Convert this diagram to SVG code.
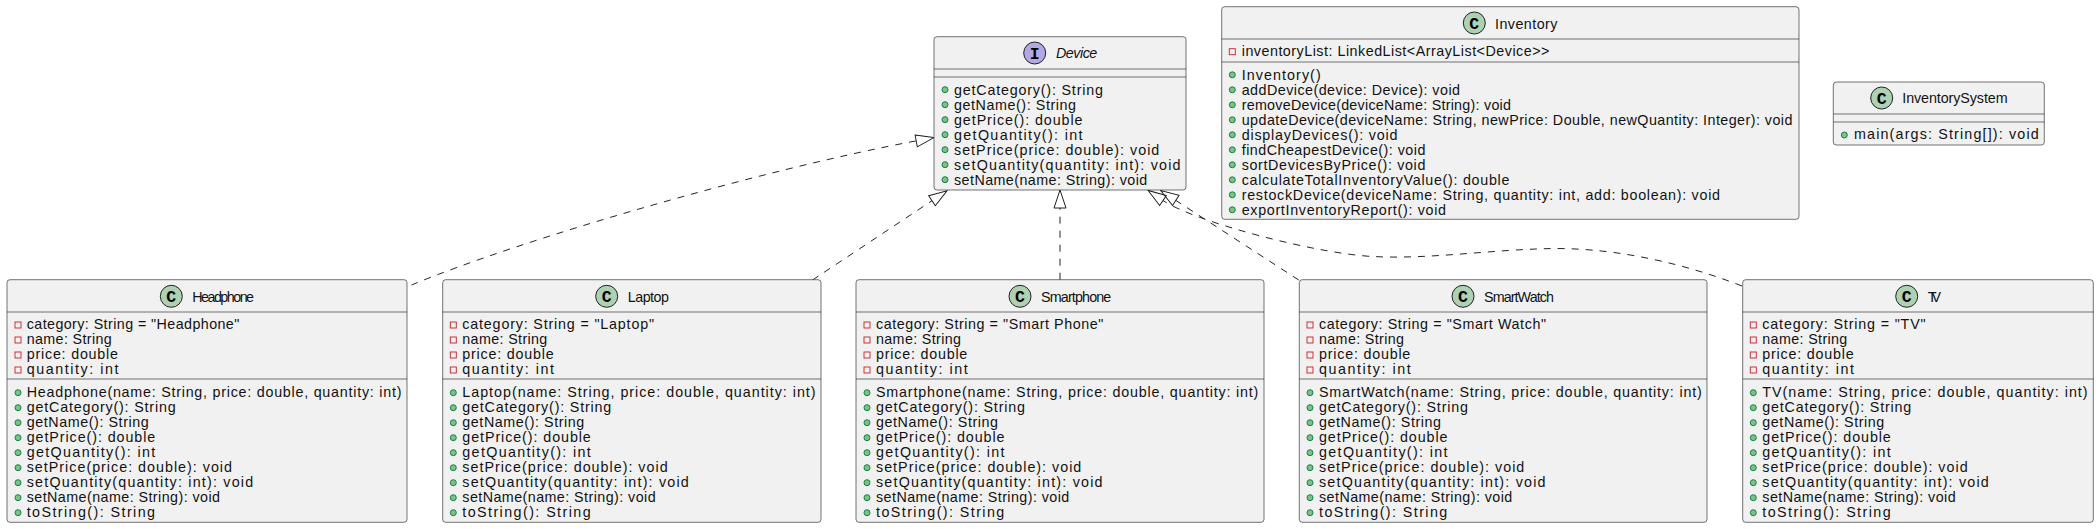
<svg xmlns="http://www.w3.org/2000/svg" width="2100" height="529" viewBox="0 0 2100 529">
<style>
text{font-family:"Liberation Sans",Arial,sans-serif;font-size:14.3px;fill:#111}
.i{font-style:italic}
.l{font-family:"Liberation Mono",monospace;font-size:16.5px;font-weight:700;text-anchor:middle;fill:#000}
.b{fill:#F1F1F1;stroke:#181818;stroke-width:.6}
.s{stroke:#181818;stroke-width:.6;fill:none}
.c{fill:#ADD1B2;stroke:#181818;stroke-width:.95}
.n{fill:#B4A7E5;stroke:#181818;stroke-width:.95}
.f{fill:none;stroke:#C82930;stroke-width:.95}
.m{fill:#84BE84;stroke:#038048;stroke-width:.95}
.e{fill:none;stroke:#181818;stroke-width:.95;stroke-dasharray:7 7}
.a{fill:none;stroke:#181818;stroke-width:.95;stroke-dasharray:none}
</style>
<defs>
<marker id="tri" markerUnits="userSpaceOnUse" viewBox="-1 -7 20 14" markerWidth="20" markerHeight="14" refX="0" refY="0" orient="auto">
<path class="a" d="M0,-6L18,0L0,6Z"/>
</marker>
</defs>
<g id="connectors">
<path class="e" marker-end="url(#tri)" d="M411.5,285C520,240 760,170 916.2,140.9"/>
<path class="e" marker-end="url(#tri)" d="M812.5,280L932,200.7"/>
<path class="e" marker-end="url(#tri)" d="M1060,279.7L1060,208"/>
<path class="e" marker-end="url(#tri)" d="M1298.7,280L1175.8,200.4"/>
<path class="e" marker-end="url(#tri)" d="M1742,286C1670,258 1600,247 1546,248.7C1490,250 1430,259 1377,256.7C1320,255 1195,222 1163,200.5"/>
</g>
<g id="Device">
<rect class="b" x="934" y="36.7" width="252" height="153.3" rx="3"/>
<path class="s" d="M934,69H1186M934,77H1186"/>
<circle class="n" cx="1034.7" cy="53" r="11"/><text class="l" x="1034.7" y="58.6">I</text>
<text class="i" x="1056" y="58" textLength="41.3">Device</text>
<circle class="m" cx="945" cy="89.7" r="3"/><text x="954" y="94.6" textLength="148.9">getCategory(): String</text>
<circle class="m" cx="945" cy="104.7" r="3"/><text x="954" y="109.6" textLength="122">getName(): String</text>
<circle class="m" cx="945" cy="119.7" r="3"/><text x="954" y="124.6" textLength="128.5">getPrice(): double</text>
<circle class="m" cx="945" cy="134.7" r="3"/><text x="954" y="139.6" textLength="128.5">getQuantity(): int</text>
<circle class="m" cx="945" cy="149.7" r="3"/><text x="954" y="154.6" textLength="205.3">setPrice(price: double): void</text>
<circle class="m" cx="945" cy="164.7" r="3"/><text x="954" y="169.6" textLength="226.5">setQuantity(quantity: int): void</text>
<circle class="m" cx="945" cy="179.7" r="3"/><text x="954" y="184.6" textLength="193.3">setName(name: String): void</text>
</g>
<g id="Inventory">
<rect class="b" x="1221.7" y="6.7" width="577.3" height="212.6" rx="3"/>
<path class="s" d="M1221.7,39H1799M1221.7,62H1799"/>
<circle class="c" cx="1474.3" cy="23" r="11"/><text class="l" x="1474.3" y="28.8">C</text>
<text x="1495" y="29" textLength="62.5">Inventory</text>
<rect class="f" x="1229.3" y="48.7" width="6" height="6"/><text x="1241.7" y="56.3" textLength="307.7">inventoryList: LinkedList&lt;ArrayList&lt;Device&gt;&gt;</text>
<circle class="m" cx="1232.3" cy="74.8" r="3"/><text x="1241.7" y="79.6" textLength="79">Inventory()</text>
<circle class="m" cx="1232.3" cy="89.8" r="3"/><text x="1241.7" y="94.6" textLength="218.3">addDevice(device: Device): void</text>
<circle class="m" cx="1232.3" cy="104.8" r="3"/><text x="1241.7" y="109.6" textLength="269.3">removeDevice(deviceName: String): void</text>
<circle class="m" cx="1232.3" cy="119.8" r="3"/><text x="1241.7" y="124.6" textLength="550.7">updateDevice(deviceName: String, newPrice: Double, newQuantity: Integer): void</text>
<circle class="m" cx="1232.3" cy="134.8" r="3"/><text x="1241.7" y="139.6" textLength="155.7">displayDevices(): void</text>
<circle class="m" cx="1232.3" cy="149.8" r="3"/><text x="1241.7" y="154.6" textLength="183.7">findCheapestDevice(): void</text>
<circle class="m" cx="1232.3" cy="164.8" r="3"/><text x="1241.7" y="169.6" textLength="183.7">sortDevicesByPrice(): void</text>
<circle class="m" cx="1232.3" cy="179.8" r="3"/><text x="1241.7" y="184.6" textLength="267.7">calculateTotalInventoryValue(): double</text>
<circle class="m" cx="1232.3" cy="194.8" r="3"/><text x="1241.7" y="199.6" textLength="478.3">restockDevice(deviceName: String, quantity: int, add: boolean): void</text>
<circle class="m" cx="1232.3" cy="209.8" r="3"/><text x="1241.7" y="214.6" textLength="204.3">exportInventoryReport(): void</text>
</g>
<g id="InventorySystem">
<rect class="b" x="1833.3" y="82" width="211" height="63" rx="3"/>
<path class="s" d="M1833.3,114H2044.3M1833.3,122H2044.3"/>
<circle class="c" cx="1881.7" cy="98" r="11"/><text class="l" x="1881.7" y="103.8">C</text>
<text x="1902.3" y="103" textLength="105.3">InventorySystem</text>
<circle class="m" cx="1844.3" cy="135" r="3"/><text x="1854" y="139.3" textLength="184.7">main(args: String[]): void</text>
</g>
<g id="Headphone">
<rect class="b" x="7" y="279.7" width="400" height="242.6" rx="3"/>
<path class="s" d="M7,312H407M7,379H407"/>
<circle class="c" cx="171.3" cy="296.3" r="11"/><text class="l" x="171.3" y="302.1">C</text>
<text x="192.3" y="301.7" textLength="61.7">Headphone</text>
<rect class="f" x="15" y="322" width="6" height="6"/><text x="26.7" y="329.3" textLength="212.6">category: String = "Headphone"</text>
<rect class="f" x="15" y="337" width="6" height="6"/><text x="26.7" y="344.3" textLength="85">name: String</text>
<rect class="f" x="15" y="352" width="6" height="6"/><text x="26.7" y="359.3" textLength="91.3">price: double</text>
<rect class="f" x="15" y="367" width="6" height="6"/><text x="26.7" y="374.3" textLength="91.7">quantity: int</text>
<circle class="m" cx="18" cy="392.7" r="3"/><text x="26.7" y="397.3" textLength="374.7">Headphone(name: String, price: double, quantity: int)</text>
<circle class="m" cx="18" cy="407.7" r="3"/><text x="26.7" y="412.3" textLength="148.9">getCategory(): String</text>
<circle class="m" cx="18" cy="422.7" r="3"/><text x="26.7" y="427.3" textLength="122">getName(): String</text>
<circle class="m" cx="18" cy="437.7" r="3"/><text x="26.7" y="442.3" textLength="128.5">getPrice(): double</text>
<circle class="m" cx="18" cy="452.7" r="3"/><text x="26.7" y="457.3" textLength="128.5">getQuantity(): int</text>
<circle class="m" cx="18" cy="467.7" r="3"/><text x="26.7" y="472.3" textLength="205.3">setPrice(price: double): void</text>
<circle class="m" cx="18" cy="482.7" r="3"/><text x="26.7" y="487.3" textLength="226.5">setQuantity(quantity: int): void</text>
<circle class="m" cx="18" cy="497.7" r="3"/><text x="26.7" y="502.3" textLength="193.3">setName(name: String): void</text>
<circle class="m" cx="18" cy="512.7" r="3"/><text x="26.7" y="517.3" textLength="128.3">toString(): String</text>
</g>
<g id="Laptop">
<rect class="b" x="442.7" y="279.7" width="378.3" height="242.6" rx="3"/>
<path class="s" d="M442.7,312H821M442.7,379H821"/>
<circle class="c" cx="606.7" cy="296.3" r="11"/><text class="l" x="606.7" y="302.1">C</text>
<text x="627.7" y="301.7" textLength="41.3">Laptop</text>
<rect class="f" x="450.3" y="322" width="6" height="6"/><text x="462.3" y="329.3" textLength="191.7">category: String = "Laptop"</text>
<rect class="f" x="450.3" y="337" width="6" height="6"/><text x="462.3" y="344.3" textLength="85">name: String</text>
<rect class="f" x="450.3" y="352" width="6" height="6"/><text x="462.3" y="359.3" textLength="91.3">price: double</text>
<rect class="f" x="450.3" y="367" width="6" height="6"/><text x="462.3" y="374.3" textLength="91.7">quantity: int</text>
<circle class="m" cx="453.3" cy="392.7" r="3"/><text x="462.3" y="397.3" textLength="353.3">Laptop(name: String, price: double, quantity: int)</text>
<circle class="m" cx="453.3" cy="407.7" r="3"/><text x="462.3" y="412.3" textLength="148.9">getCategory(): String</text>
<circle class="m" cx="453.3" cy="422.7" r="3"/><text x="462.3" y="427.3" textLength="122">getName(): String</text>
<circle class="m" cx="453.3" cy="437.7" r="3"/><text x="462.3" y="442.3" textLength="128.5">getPrice(): double</text>
<circle class="m" cx="453.3" cy="452.7" r="3"/><text x="462.3" y="457.3" textLength="128.5">getQuantity(): int</text>
<circle class="m" cx="453.3" cy="467.7" r="3"/><text x="462.3" y="472.3" textLength="205.3">setPrice(price: double): void</text>
<circle class="m" cx="453.3" cy="482.7" r="3"/><text x="462.3" y="487.3" textLength="226.5">setQuantity(quantity: int): void</text>
<circle class="m" cx="453.3" cy="497.7" r="3"/><text x="462.3" y="502.3" textLength="193.3">setName(name: String): void</text>
<circle class="m" cx="453.3" cy="512.7" r="3"/><text x="462.3" y="517.3" textLength="128.3">toString(): String</text>
</g>
<g id="Smartphone">
<rect class="b" x="856" y="279.7" width="408" height="242.6" rx="3"/>
<path class="s" d="M856,312H1264M856,379H1264"/>
<circle class="c" cx="1020" cy="296.3" r="11"/><text class="l" x="1020" y="302.1">C</text>
<text x="1041" y="301.7" textLength="70.3">Smartphone</text>
<rect class="f" x="864" y="322" width="6" height="6"/><text x="876" y="329.3" textLength="227.3">category: String = "Smart Phone"</text>
<rect class="f" x="864" y="337" width="6" height="6"/><text x="876" y="344.3" textLength="85">name: String</text>
<rect class="f" x="864" y="352" width="6" height="6"/><text x="876" y="359.3" textLength="91.3">price: double</text>
<rect class="f" x="864" y="367" width="6" height="6"/><text x="876" y="374.3" textLength="91.7">quantity: int</text>
<circle class="m" cx="867" cy="392.7" r="3"/><text x="876" y="397.3" textLength="382.3">Smartphone(name: String, price: double, quantity: int)</text>
<circle class="m" cx="867" cy="407.7" r="3"/><text x="876" y="412.3" textLength="148.9">getCategory(): String</text>
<circle class="m" cx="867" cy="422.7" r="3"/><text x="876" y="427.3" textLength="122">getName(): String</text>
<circle class="m" cx="867" cy="437.7" r="3"/><text x="876" y="442.3" textLength="128.5">getPrice(): double</text>
<circle class="m" cx="867" cy="452.7" r="3"/><text x="876" y="457.3" textLength="128.5">getQuantity(): int</text>
<circle class="m" cx="867" cy="467.7" r="3"/><text x="876" y="472.3" textLength="205.3">setPrice(price: double): void</text>
<circle class="m" cx="867" cy="482.7" r="3"/><text x="876" y="487.3" textLength="226.5">setQuantity(quantity: int): void</text>
<circle class="m" cx="867" cy="497.7" r="3"/><text x="876" y="502.3" textLength="193.3">setName(name: String): void</text>
<circle class="m" cx="867" cy="512.7" r="3"/><text x="876" y="517.3" textLength="128.3">toString(): String</text>
</g>
<g id="SmartWatch">
<rect class="b" x="1299.3" y="279.7" width="407.7" height="242.6" rx="3"/>
<path class="s" d="M1299.3,312H1707M1299.3,379H1707"/>
<circle class="c" cx="1463" cy="296.3" r="11"/><text class="l" x="1463" y="302.1">C</text>
<text x="1484" y="301.7" textLength="70">SmartWatch</text>
<rect class="f" x="1307" y="322" width="6" height="6"/><text x="1319" y="329.3" textLength="227">category: String = "Smart Watch"</text>
<rect class="f" x="1307" y="337" width="6" height="6"/><text x="1319" y="344.3" textLength="85">name: String</text>
<rect class="f" x="1307" y="352" width="6" height="6"/><text x="1319" y="359.3" textLength="91.3">price: double</text>
<rect class="f" x="1307" y="367" width="6" height="6"/><text x="1319" y="374.3" textLength="91.7">quantity: int</text>
<circle class="m" cx="1310" cy="392.7" r="3"/><text x="1319" y="397.3" textLength="382.7">SmartWatch(name: String, price: double, quantity: int)</text>
<circle class="m" cx="1310" cy="407.7" r="3"/><text x="1319" y="412.3" textLength="148.9">getCategory(): String</text>
<circle class="m" cx="1310" cy="422.7" r="3"/><text x="1319" y="427.3" textLength="122">getName(): String</text>
<circle class="m" cx="1310" cy="437.7" r="3"/><text x="1319" y="442.3" textLength="128.5">getPrice(): double</text>
<circle class="m" cx="1310" cy="452.7" r="3"/><text x="1319" y="457.3" textLength="128.5">getQuantity(): int</text>
<circle class="m" cx="1310" cy="467.7" r="3"/><text x="1319" y="472.3" textLength="205.3">setPrice(price: double): void</text>
<circle class="m" cx="1310" cy="482.7" r="3"/><text x="1319" y="487.3" textLength="226.5">setQuantity(quantity: int): void</text>
<circle class="m" cx="1310" cy="497.7" r="3"/><text x="1319" y="502.3" textLength="193.3">setName(name: String): void</text>
<circle class="m" cx="1310" cy="512.7" r="3"/><text x="1319" y="517.3" textLength="128.3">toString(): String</text>
</g>
<g id="TV">
<rect class="b" x="1742.7" y="279.7" width="350.6" height="242.6" rx="3"/>
<path class="s" d="M1742.7,312H2093.3M1742.7,379H2093.3"/>
<circle class="c" cx="1906.7" cy="296.3" r="11"/><text class="l" x="1906.7" y="302.1">C</text>
<text x="1927.7" y="301.7" textLength="13.3">TV</text>
<rect class="f" x="1750.3" y="322" width="6" height="6"/><text x="1762.3" y="329.3" textLength="163.3">category: String = "TV"</text>
<rect class="f" x="1750.3" y="337" width="6" height="6"/><text x="1762.3" y="344.3" textLength="85">name: String</text>
<rect class="f" x="1750.3" y="352" width="6" height="6"/><text x="1762.3" y="359.3" textLength="91.3">price: double</text>
<rect class="f" x="1750.3" y="367" width="6" height="6"/><text x="1762.3" y="374.3" textLength="91.7">quantity: int</text>
<circle class="m" cx="1753.3" cy="392.7" r="3"/><text x="1762.3" y="397.3" textLength="325.3">TV(name: String, price: double, quantity: int)</text>
<circle class="m" cx="1753.3" cy="407.7" r="3"/><text x="1762.3" y="412.3" textLength="148.9">getCategory(): String</text>
<circle class="m" cx="1753.3" cy="422.7" r="3"/><text x="1762.3" y="427.3" textLength="122">getName(): String</text>
<circle class="m" cx="1753.3" cy="437.7" r="3"/><text x="1762.3" y="442.3" textLength="128.5">getPrice(): double</text>
<circle class="m" cx="1753.3" cy="452.7" r="3"/><text x="1762.3" y="457.3" textLength="128.5">getQuantity(): int</text>
<circle class="m" cx="1753.3" cy="467.7" r="3"/><text x="1762.3" y="472.3" textLength="205.3">setPrice(price: double): void</text>
<circle class="m" cx="1753.3" cy="482.7" r="3"/><text x="1762.3" y="487.3" textLength="226.5">setQuantity(quantity: int): void</text>
<circle class="m" cx="1753.3" cy="497.7" r="3"/><text x="1762.3" y="502.3" textLength="193.3">setName(name: String): void</text>
<circle class="m" cx="1753.3" cy="512.7" r="3"/><text x="1762.3" y="517.3" textLength="128.3">toString(): String</text>
</g>
</svg>
